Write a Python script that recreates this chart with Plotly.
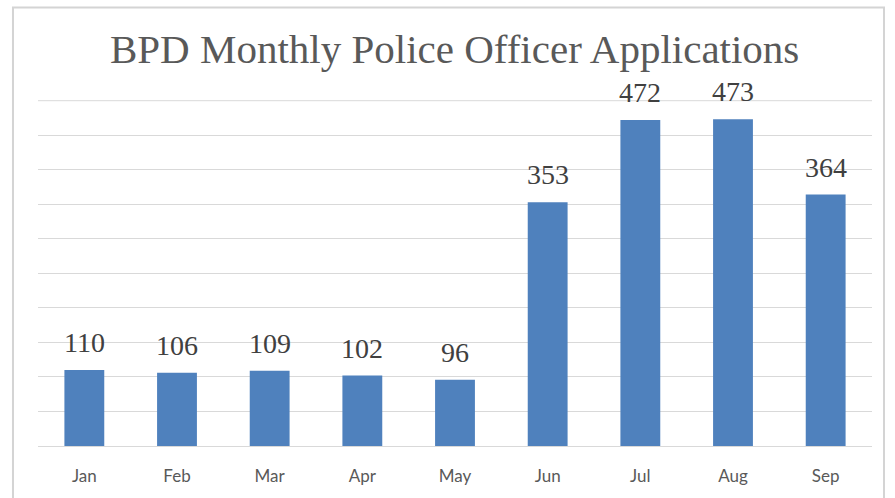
import plotly.graph_objects as go

months = ["Jan", "Feb", "Mar", "Apr", "May", "Jun", "Jul", "Aug", "Sep"]
applications = [110, 106, 109, 102, 96, 353, 472, 473, 364]

serif = "Liberation Serif, Times New Roman, serif"

fig = go.Figure()
fig.add_trace(go.Bar(
    x=months, y=applications,
    marker=dict(color="#4f81bd", line=dict(width=0)),
    hoverinfo="x+y",
))

for m, v in zip(months, applications):
    fig.add_annotation(
        x=m, y=v, text=str(v), showarrow=False,
        yanchor="bottom", yshift=10,
        font=dict(family=serif, size=28, color="#404040"),
    )

fig.update_layout(
    width=895, height=498,
    margin=dict(l=38, r=23, t=100, b=50),
    paper_bgcolor="white", plot_bgcolor="white",
    bargap=0.57,
    showlegend=False,
    title=dict(
        text="BPD Monthly Police Officer Applications",
        font=dict(family=serif, size=41, color="#595959"),
        x=0.508, xanchor="center", y=0.902, yanchor="middle",
    ),
    xaxis=dict(
        showgrid=False, showline=False, ticks="",
        ticklabelstandoff=18,
        tickfont=dict(family="Lato, Open Sans, sans-serif", size=17, color="#595959"),
    ),
    yaxis=dict(
        range=[0, 501], tickvals=list(range(0, 501, 50)), showticklabels=False,
        showgrid=True, gridcolor="#d9d9d9", gridwidth=1,
        zeroline=True, zerolinecolor="#d9d9d9", zerolinewidth=1,
        showline=False,
    ),
    shapes=[
        dict(
            type="rect", xref="paper", yref="paper",
            x0=-0.030, x1=1.0144, y0=-0.3, y1=1.267,
            line=dict(color="#d4d4d4", width=2), fillcolor="rgba(0,0,0,0)",
            layer="below",
        ),
        dict(
            type="line", xref="paper", yref="y",
            x0=0, x1=1, y0=500, y1=500,
            line=dict(color="#d9d9d9", width=1),
            layer="below",
        ),
    ],
)

fig.write_html(
    "out.html",
    config={"displayModeBar": False},
    post_script="document.body.style.margin='0';document.body.style.overflow='hidden';",
)
